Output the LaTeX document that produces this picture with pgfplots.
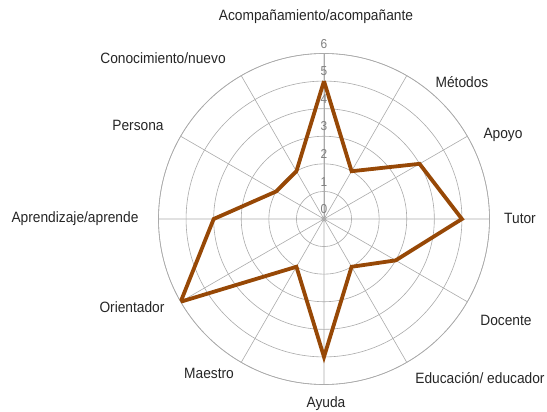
\documentclass[border=0pt]{standalone}
\usepackage{fontspec}
\setmainfont{Liberation Sans}[FakeStretch=0.92]
\usepackage{pgfplots}
\pgfplotsset{compat=1.18}
\usepgfplotslibrary{polar}

\definecolor{ringgray}{RGB}{170,170,170}
\definecolor{labgray}{RGB}{128,128,128}
\definecolor{txt}{RGB}{38,38,38}
\definecolor{brownline}{RGB}{151,72,6}

\begin{document}
\begin{tikzpicture}[lab/.style={font=\fontsize{15}{17}\selectfont, text=txt, anchor=center, inner sep=0pt}]
\begin{polaraxis}[
    width=331bp, height=331bp,
    scale only axis,
    xmin=90, xmax=450,
    ymin=0, ymax=6,
    xtick={90,120,...,420},
    xticklabels={},
    ytick={0,1,...,6},
    grid=major,
    grid style={ringgray, line width=0.6bp},
    axis line style={ringgray, line width=0.6bp},
    major tick length=0pt,
    yticklabel style={font=\fontsize{13}{15}\selectfont, text=labgray,
        anchor=south, inner sep=1bp, yshift=4bp},
    /pgf/number format/assume math mode=true,
]
\coordinate (O) at (axis cs:0,0);
% values read clockwise from the top
\addplot[brownline, line width=3.8bp, line join=miter, mark=none] coordinates {
    (90,5) (120,2) (150,2) (180,4) (210,6) (240,2)
    (270,5) (300,2) (330,3) (360,5) (390,4) (420,2) (450,5)
};
\end{polaraxis}
% category names round the web
\node[lab] at ([shift={(-8bp,202bp)}]O) {Acompañamiento/acompañante};
\node[lab] at ([shift={(138bp,137bp)}]O) {Métodos};
\node[lab] at ([shift={(179bp,84bp)}]O) {Apoyo};
\node[lab] at ([shift={(196bp,1bp)}]O) {Tutor};
\node[lab] at ([shift={(182bp,-101bp)}]O) {Docente};
\node[lab] at ([shift={(156bp,-159bp)}]O) {Educación/ educador};
\node[lab] at ([shift={(2bp,-185bp)}]O) {Ayuda};
\node[lab] at ([shift={(-115bp,-154bp)}]O) {Maestro};
\node[lab] at ([shift={(-192bp,-88bp)}]O) {Orientador};
\node[lab] at ([shift={(-249bp,0bp)}]O) {Aprendizaje/aprende};
\node[lab] at ([shift={(-186bp,94bp)}]O) {Persona};
\node[lab] at ([shift={(-161bp,161bp)}]O) {Conocimiento/nuevo};
\pgfresetboundingbox
\path[use as bounding box] ([shift={(-324bp,-193bp)}]O) rectangle ++(547bp,412bp);
\end{tikzpicture}
\end{document}
